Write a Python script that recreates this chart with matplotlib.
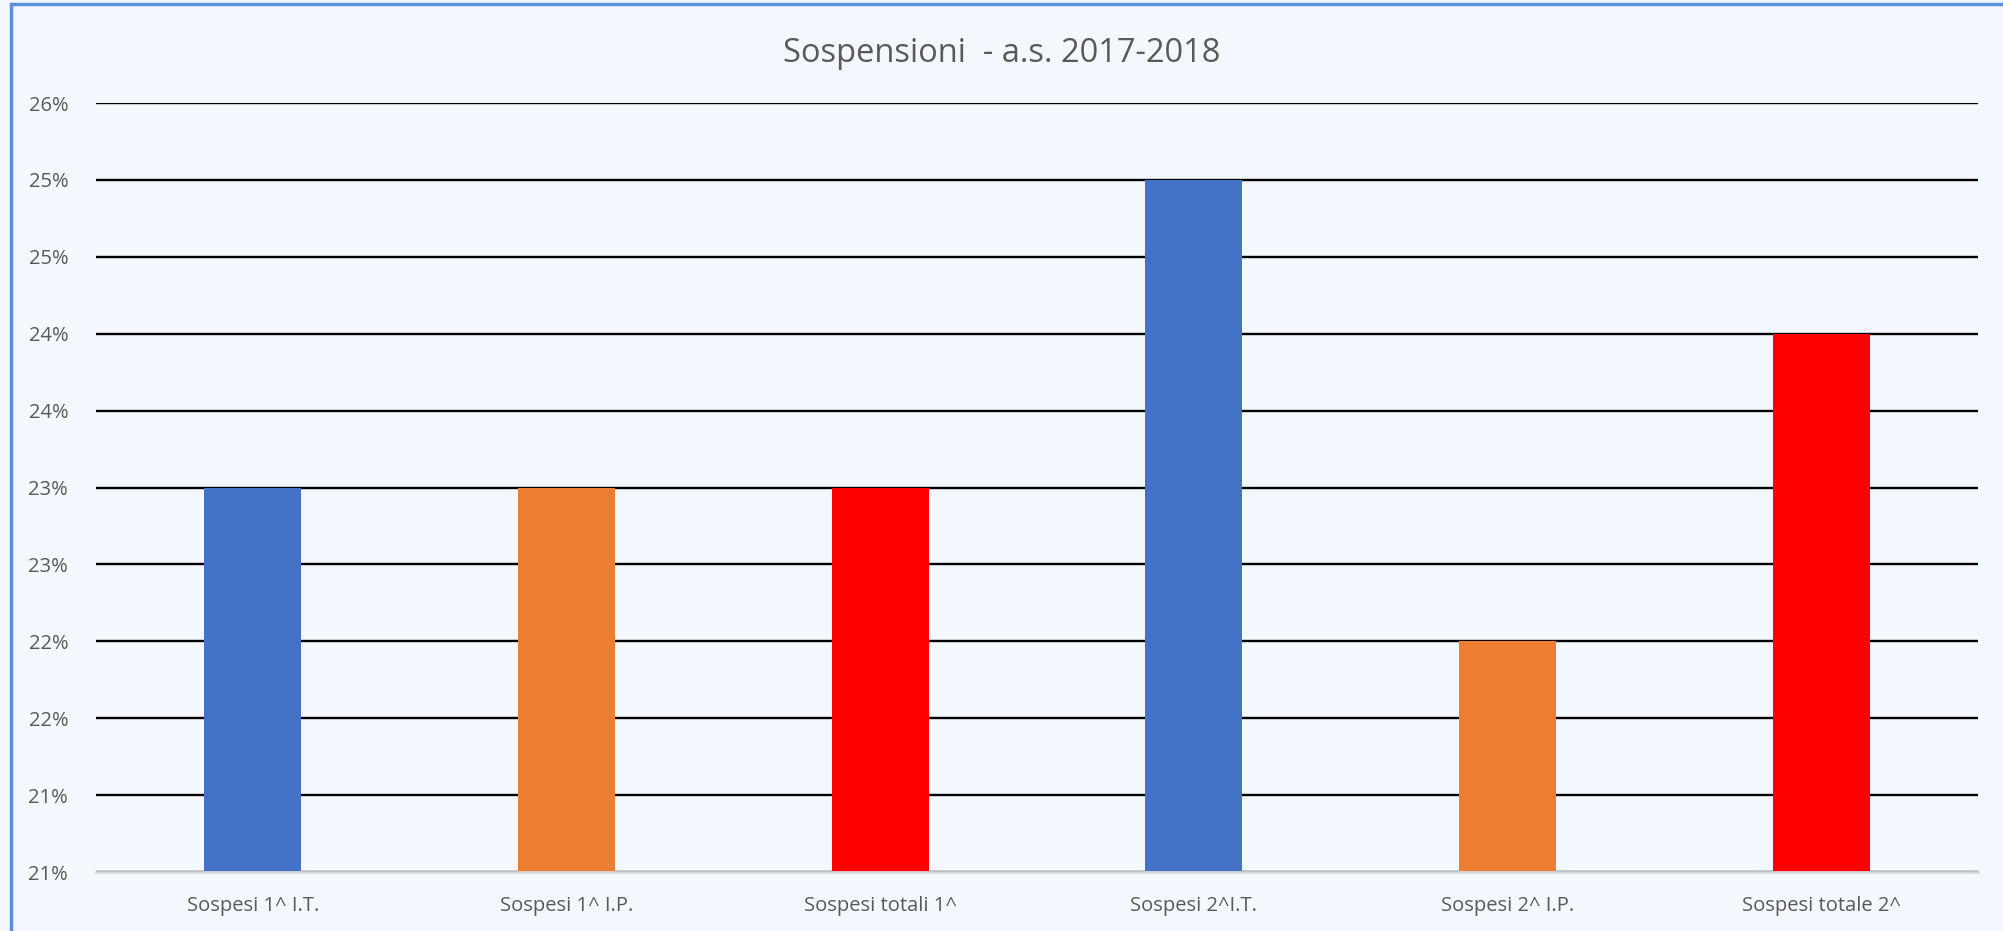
import matplotlib.pyplot as plt
from matplotlib.patches import Rectangle
from matplotlib.ticker import FuncFormatter, MultipleLocator

categories = ["Sospesi 1^ I.T.", "Sospesi 1^ I.P.", "Sospesi totali 1^",
              "Sospesi 2^I.T.", "Sospesi 2^ I.P.", "Sospesi totale 2^"]
values = [23.0, 23.0, 23.0, 25.0, 22.0, 24.0]
colors = ["#4472C4", "#ED7D31", "#FF0000", "#4472C4", "#ED7D31", "#FF0000"]

bg = "#F3F8FE"
txt = "#595959"
plt.rcParams['font.family'] = ['Open Sans', 'DejaVu Sans']

fig = plt.figure(figsize=(20.03, 9.31), dpi=100, facecolor=bg)
ax = fig.add_axes([96 / 2003, 1 - 872 / 931, (1978 - 96) / 2003, (872 - 103) / 931])
ax.set_facecolor(bg)

x = range(len(categories))
ax.bar(x, [v - 20.5 for v in values], bottom=20.5, width=0.31, color=colors, zorder=3)

ax.set_xlim(-0.5, len(categories) - 0.5)
ax.set_ylim(20.5, 25.5)
ax.yaxis.set_major_locator(MultipleLocator(0.5))
ax.yaxis.set_major_formatter(FuncFormatter(lambda v, p: "%d%%" % int(v + 0.5)))
ax.grid(axis='y', color='black', linewidth=1.7, zorder=1)
ax.set_xticks(list(x))
ax.set_xticklabels(categories)
ax.tick_params(axis='both', length=0, labelsize=14.5, labelcolor=txt)
ax.tick_params(axis='x', pad=17)
ax.tick_params(axis='y', pad=20)
for s in ['top', 'right', 'left']:
    ax.spines[s].set_visible(False)
ax.spines['bottom'].set_color('#D9D9D9')
ax.spines['bottom'].set_linewidth(2)
ax.spines['bottom'].set_zorder(4)

fig.text(0.5, 1 - 54 / 931, "Sospensioni  - a.s. 2017-2018", ha='center', va='center',
         fontsize=23.5, color=txt)

# chart border
fig.patches.append(Rectangle((11 / 2003, -0.01), 1.2, 1 - 4 / 931 + 0.01,
                             transform=fig.transFigure, fill=False,
                             edgecolor='#5B8FDB', linewidth=2.5))

fig.savefig("out.png", dpi=100, facecolor=bg)
